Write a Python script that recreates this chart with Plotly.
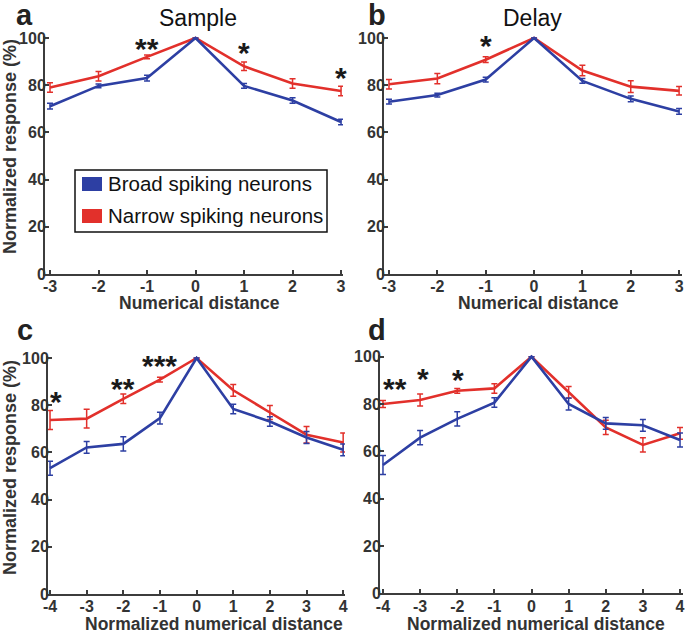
import plotly.graph_objects as go

# ---------------- data ----------------
dist_ab = [-3, -2, -1, 0, 1, 2, 3]
dist_cd = [-4, -3, -2, -1, 0, 1, 2, 3, 4]

broad_sample = [71.1, 79.7, 83.0, 100, 79.7, 73.5, 64.4]
broad_sample_err = [1.2, 0.8, 1.2, 0, 1.0, 1.2, 1.2]
narrow_sample = [79.0, 83.8, 92.0, 100, 88.0, 80.7, 77.5]
narrow_sample_err = [2.0, 2.0, 0.8, 0, 1.8, 2.0, 2.0]

broad_delay = [73.0, 75.8, 82.4, 100, 81.8, 74.2, 68.9]
broad_delay_err = [1.0, 0.8, 1.0, 0, 1.0, 1.2, 1.2]
narrow_delay = [80.4, 82.8, 90.8, 100, 86.2, 79.4, 77.6]
narrow_delay_err = [2.0, 2.2, 1.2, 0, 2.2, 2.5, 1.8]

broad_norm_sample = [53.3, 62.1, 63.6, 74.5, 100, 78.4, 73.1, 66.3, 61.1]
broad_norm_sample_err = [3.0, 2.5, 3.0, 2.5, 0, 2.0, 2.0, 2.5, 2.5]
narrow_norm_sample = [73.7, 74.3, 82.7, 90.8, 100, 86.3, 76.9, 67.5, 64.2]
narrow_norm_sample_err = [4.0, 4.0, 2.0, 1.0, 0, 2.5, 3.0, 3.5, 4.0]

broad_norm_delay = [54.2, 65.8, 73.7, 80.6, 100, 80.0, 71.8, 71.0, 64.8]
broad_norm_delay_err = [4.0, 3.0, 3.0, 2.0, 0, 2.5, 2.5, 2.5, 3.0]
narrow_norm_delay = [80.0, 81.7, 85.6, 86.6, 100, 84.9, 70.1, 62.7, 67.6]
narrow_norm_delay_err = [1.5, 2.5, 1.0, 2.0, 0, 2.5, 3.0, 3.0, 2.5]

series_names = ["Broad spiking neurons", "Narrow spiking neurons"]
panel_titles = ["Sample", "Delay"]
panel_letters = ["a", "b", "c", "d"]
x_titles = ["Numerical distance", "Numerical distance",
            "Normalized numerical distance", "Normalized numerical distance"]
y_title = "Normalized response (%)"
y_ticks = [0, 20, 40, 60, 80, 100]

# significance stars: (panel, label, x, y)
stars = [
    (1, "**", -1.0, 98.3), (1, "*", 1.0, 96.2), (1, "*", 3.0, 85.6),
    (2, "*", -1.0, 99.2),
    (3, "*", -3.84, 84.3), (3, "**", -2.0, 89.8), (3, "***", -1.0, 99.2),
    (4, "**", -3.68, 88.9), (4, "*", -2.92, 93.5), (4, "*", -1.98, 92.7),
]

# ---------------- style ----------------
W, H = 685, 634
BLUE = "#2D3FA3"
RED = "#E2302B"
AX = "#3c3c3c"
TXT = "#333333"
FONT = "Liberation Sans, Arial, sans-serif"


def pxx(x):
    return x / W


def pxy(y):
    return 1 - y / H


# panel geometry in pixels: (left, right, top, bottom) and x range
panels = [
    dict(xd=(45, 343), yd=(36.1, 274), xr=(-3.103, 3.04), xt=dist_ab),
    dict(xd=(384, 682), yd=(36.1, 274), xr=(-3.103, 3.06), xt=dist_ab),
    dict(xd=(48, 345), yd=(356.1, 594), xr=(-4.055, 4.05), xt=dist_cd),
    dict(xd=(380, 683), yd=(354.8, 593.3), xr=(-4.08, 4.08), xt=dist_cd),
]

data = [
    (dist_ab, broad_sample, broad_sample_err, narrow_sample, narrow_sample_err),
    (dist_ab, broad_delay, broad_delay_err, narrow_delay, narrow_delay_err),
    (dist_cd, broad_norm_sample, broad_norm_sample_err, narrow_norm_sample, narrow_norm_sample_err),
    (dist_cd, broad_norm_delay, broad_norm_delay_err, narrow_norm_delay, narrow_norm_delay_err),
]

fig = go.Figure()
layout = dict(
    width=W, height=H,
    margin=dict(l=0, r=0, t=0, b=0, pad=0),
    paper_bgcolor="white", plot_bgcolor="white",
    showlegend=False,
    font=dict(family=FONT, color=TXT),
)

for i, (p, d) in enumerate(zip(panels, data), start=1):
    xs, b, be, n, ne = d
    xa = "x" if i == 1 else f"x{i}"
    ya = "y" if i == 1 else f"y{i}"
    fig.add_trace(go.Scatter(
        x=xs, y=n, mode="lines", name=series_names[1],
        line=dict(color=RED, width=2.6),
        error_y=dict(type="data", array=ne, color=RED, thickness=1.5, width=3),
        xaxis=xa, yaxis=ya))
    fig.add_trace(go.Scatter(
        x=xs, y=b, mode="lines", name=series_names[0],
        line=dict(color=BLUE, width=2.6),
        error_y=dict(type="data", array=be, color=BLUE, thickness=1.5, width=3),
        xaxis=xa, yaxis=ya))
    key_x = "xaxis" if i == 1 else f"xaxis{i}"
    key_y = "yaxis" if i == 1 else f"yaxis{i}"
    layout[key_x] = dict(
        domain=[pxx(p["xd"][0]), pxx(p["xd"][1])],
        range=list(p["xr"]), anchor=ya, automargin=False,
        tickvals=p["xt"], ticktext=[str(v) for v in p["xt"]],
        showline=True, linecolor=AX, linewidth=2,
        ticks="inside", ticklen=4, tickwidth=1.5, tickcolor=AX,
        showgrid=False, zeroline=False,
        tickfont=dict(size=16, family=FONT, color=TXT, weight="bold"),
        ticklabelstandoff=-3,
    )
    layout[key_y] = dict(
        domain=[pxy(p["yd"][1]), pxy(p["yd"][0])],
        range=[0, 100.8], anchor=xa, automargin=False,
        tickvals=y_ticks,
        showline=True, linecolor=AX, linewidth=2,
        ticks="inside", ticklen=4, tickwidth=1.5, tickcolor=AX,
        showgrid=False, zeroline=False,
        tickfont=dict(size=16, family=FONT, color=TXT, weight="bold"),
        ticklabelstandoff=-6,
    )

fig.update_layout(**layout)

ann = []
# stars
for panel, lab, sx, sy in stars:
    xref = "x" if panel == 1 else f"x{panel}"
    yref = "y" if panel == 1 else f"y{panel}"
    ann.append(dict(text=lab, x=sx, y=sy, xref=xref, yref=yref,
                    showarrow=False, xanchor="center", yanchor="middle", yshift=-6,
                    font=dict(size=30, family=FONT, color="#1a1a1a", weight="bold")))

# panel letters
letter_pos = [(24, 15.5), (377, 15.5), (25, 330), (377, 330)]
for lab, (lx, ly) in zip(panel_letters, letter_pos):
    ann.append(dict(text=lab, x=pxx(lx), y=pxy(ly), xref="paper", yref="paper",
                    showarrow=False, xanchor="center", yanchor="middle",
                    font=dict(size=29, family=FONT, color="#222222", weight="bold")))

# panel titles
for t, tx in zip(panel_titles, [198, 532]):
    ann.append(dict(text=t, x=pxx(tx), y=pxy(18), xref="paper", yref="paper",
                    showarrow=False, xanchor="center", yanchor="middle",
                    font=dict(size=23, family=FONT, color="#111111")))

# x axis titles
xt_pos = [(199, 303), (538, 303), (214, 623.5), (536, 623.5)]
for t, (tx, ty) in zip(x_titles, xt_pos):
    ann.append(dict(text=t, x=pxx(tx), y=pxy(ty), xref="paper", yref="paper",
                    showarrow=False, xanchor="center", yanchor="middle",
                    font=dict(size=17.5, family=FONT, color=TXT, weight="bold")))

# y axis titles (left panels only)
for ty in [147, 468]:
    ann.append(dict(text=y_title, x=pxx(10), y=pxy(ty), xref="paper", yref="paper",
                    showarrow=False, xanchor="center", yanchor="middle", textangle=-90,
                    font=dict(size=18, family=FONT, color=TXT, weight="bold")))

# legend (panel a)
shapes = [
    dict(type="rect", xref="paper", yref="paper",
         x0=pxx(75), x1=pxx(327), y0=pxy(232), y1=pxy(170),
         line=dict(color="#111111", width=1.5), fillcolor="white", layer="above"),
    dict(type="rect", xref="paper", yref="paper",
         x0=pxx(82), x1=pxx(102), y0=pxy(191), y1=pxy(177),
         line=dict(width=0), fillcolor=BLUE, layer="above"),
    dict(type="rect", xref="paper", yref="paper",
         x0=pxx(82), x1=pxx(102), y0=pxy(223), y1=pxy(209),
         line=dict(width=0), fillcolor=RED, layer="above"),
]
for name, ly in zip(series_names, [183.6, 215.6]):
    ann.append(dict(text=name, x=pxx(106), y=pxy(ly), xref="paper", yref="paper",
                    showarrow=False, xanchor="left", yanchor="middle",
                    font=dict(size=20.5, family=FONT, color="#111111")))

fig.update_layout(annotations=ann, shapes=shapes)
fig.write_html(
    "out.html",
    config={"displayModeBar": False},
    post_script="document.body.style.margin='0';document.body.style.overflow='hidden';",
)
